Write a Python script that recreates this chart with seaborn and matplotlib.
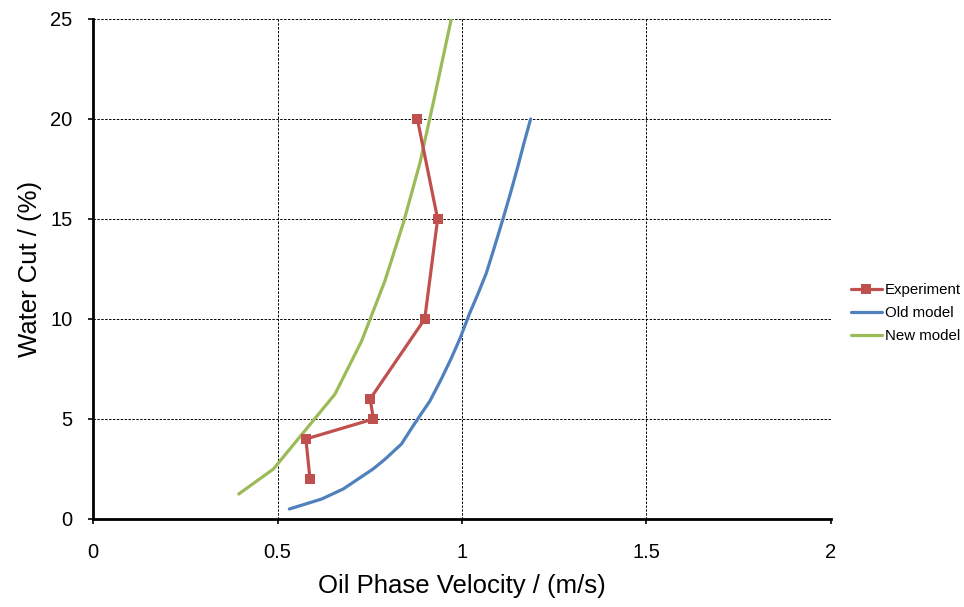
import matplotlib
matplotlib.use("Agg")
import matplotlib.pyplot as plt
import seaborn as sns
import pandas as pd

# Experiment data
exp_x = [0.879, 0.934, 0.899, 0.751, 0.760, 0.577, 0.588]
exp_y = [20, 15, 10, 6, 5, 4, 2]

# Old model
old_x = [0.532, 0.62, 0.678, 0.759, 0.792, 0.836, 0.862, 0.880, 0.913, 0.944,
         0.970, 0.994, 1.021, 1.042, 1.066, 1.088, 1.111, 1.133, 1.151, 1.168, 1.186]
old_y = [0.5, 1.0, 1.5, 2.5, 3.0, 3.75, 4.5, 5.0, 5.9, 7.0,
         8.0, 9.0, 10.3, 11.2, 12.3, 13.6, 15.0, 16.4, 17.6, 18.8, 20.0]

# New model
new_x = [0.395, 0.489, 0.656, 0.728, 0.791, 0.841, 0.886, 0.922, 0.971]
new_y = [1.25, 2.5, 6.25, 8.9, 11.9, 14.8, 17.8, 20.8, 25.0]

x_ticks = [0, 0.5, 1, 1.5, 2]
x_tick_labels = ["0", "0.5", "1", "1.5", "2"]
y_ticks = [0, 5, 10, 15, 20, 25]

sns.set_style("white")
plt.rcParams['font.family'] = ['Liberation Sans', 'DejaVu Sans']
plt.rcParams['text.color'] = 'black'
plt.rcParams['axes.labelcolor'] = 'black'
plt.rcParams['xtick.color'] = 'black'
plt.rcParams['ytick.color'] = 'black'

fig = plt.figure(figsize=(9.64, 6.07), dpi=100)
ax = fig.add_axes([93/964, 1-519/607, (831-93)/964, (519-19)/607])

df_exp = pd.DataFrame({"x": exp_x, "y": exp_y})
df_old = pd.DataFrame({"x": old_x, "y": old_y})
df_new = pd.DataFrame({"x": new_x, "y": new_y})

sns.lineplot(data=df_exp, x="x", y="y", sort=False, estimator=None, ax=ax,
             color="#C0504D", lw=2.3, marker="s", markersize=7, markeredgewidth=0,
             label="Experiment", zorder=4)
sns.lineplot(data=df_old, x="x", y="y", sort=False, estimator=None, ax=ax,
             color="#4F81BD", lw=2.3, label="Old model", zorder=3)
sns.lineplot(data=df_new, x="x", y="y", sort=False, estimator=None, ax=ax,
             color="#9BBB59", lw=2.3, label="New model", zorder=3)

ax.set_xlim(0, 2)
ax.set_ylim(0, 25)
ax.set_xticks(x_ticks)
ax.set_xticklabels(x_tick_labels)
ax.set_yticks(y_ticks)

ax.grid(True, color="black", linestyle=(0, (2.5, 1.5)), linewidth=0.7)
ax.set_axisbelow(True)
for s in ["top", "right"]:
    ax.spines[s].set_visible(False)
for s in ["left", "bottom"]:
    ax.spines[s].set_color("black")
    ax.spines[s].set_linewidth(2.0)
    ax.spines[s].set_zorder(5)

ax.tick_params(axis="x", which="major", direction="out", length=3.6, width=1.2,
               color="black", labelsize=14.5, pad=14, bottom=True)
ax.tick_params(axis="y", which="major", direction="out", length=3.6, width=1.2,
               color="black", labelsize=14.5, pad=11, left=True)

ax.set_xlabel("Oil Phase Velocity / (m/s)", fontsize=18.5, labelpad=8)
ax.set_ylabel("Water Cut / (%)", fontsize=18.5, labelpad=6)

leg = ax.legend(loc="center left", bbox_to_anchor=(851/964, 1-313/607),
                bbox_transform=fig.transFigure, frameon=False, fontsize=10.8,
                handlelength=2.05, handletextpad=0.2, labelspacing=0.6,
                borderpad=0, borderaxespad=0)

fig.savefig("out.png", dpi=100)
